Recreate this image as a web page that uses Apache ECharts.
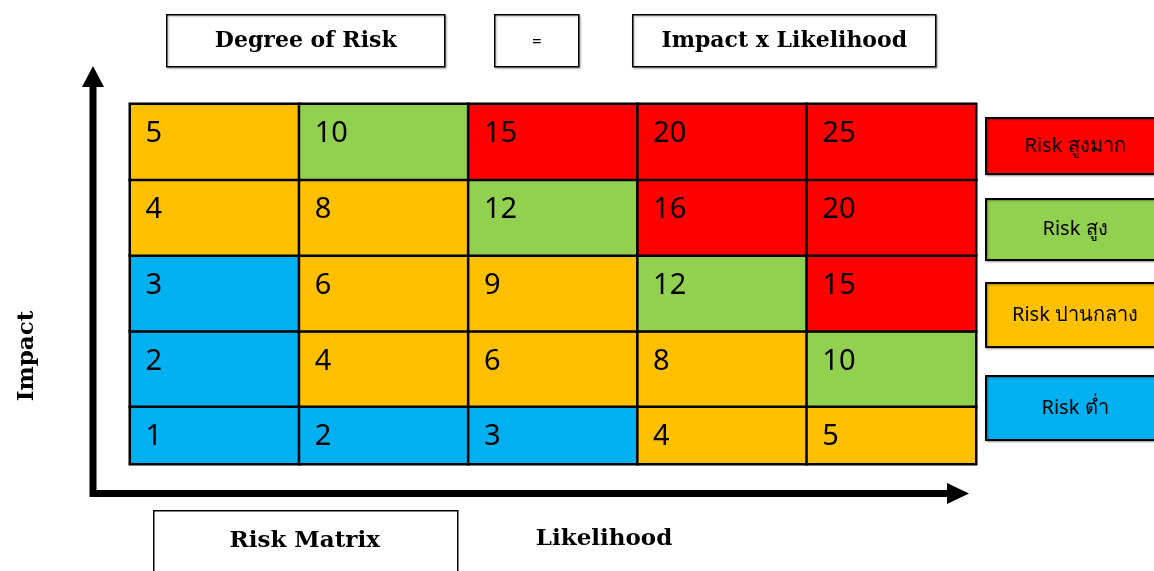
<!DOCTYPE html>
<html>
<head>
<meta charset="utf-8">
<script src="https://cdn.jsdelivr.net/npm/echarts@6/dist/echarts.min.js"></script>
<style>
html,body{margin:0;padding:0;background:#fff;}
#chart{width:1154px;height:571px;}
</style>
</head>
<body>
<div id="chart"></div>
<script>
// Data
const likelihood = ['1', '2', '3', '4', '5'];
const impact = ['1', '2', '3', '4', '5'];
const riskValues = [
  // [likelihoodIndex, impactIndex, degree]
  [0,0,1],[1,0,2],[2,0,3],[3,0,4],[4,0,5],
  [0,1,2],[1,1,4],[2,1,6],[3,1,8],[4,1,10],
  [0,2,3],[1,2,6],[2,2,9],[3,2,12],[4,2,15],
  [0,3,4],[1,3,8],[2,3,12],[3,3,16],[4,3,20],
  [0,4,5],[1,4,10],[2,4,15],[3,4,20],[4,4,25]
];
const legendLabels = ['Risk สูงมาก', 'Risk สูง', 'Risk ปานกลาง', 'Risk ต่ำ'];
const legendRanges = [[13, 25], [10, 12], [4, 9], [1, 3]];
const legendColors = ['#FF0000', '#92D050', '#FFC000', '#00B0F0'];
const headerTexts = ['Degree of Risk', '=', 'Impact x Likelihood'];

const serif = '"DejaVu Serif", "Liberation Serif", serif';
const sans = '"Noto Sans", "DejaVu Sans", sans-serif';

const chart = echarts.init(document.getElementById('chart'), null, {renderer: 'canvas'});

// legend boxes
const legendTops = [117, 198, 282, 375];
const legendHeights = [56, 61, 64, 64];
const legendGraphics = legendLabels.map((t, i) => ({
  type: 'group',
  left: 985, top: legendTops[i],
  children: [
    {type: 'rect', shape: {x: 0, y: 0, width: 178, height: legendHeights[i]},
     style: {fill: legendColors[i], stroke: '#000', lineWidth: 2, shadowColor: 'rgba(0,0,0,0.35)', shadowBlur: 2, shadowOffsetX: 1, shadowOffsetY: 1}},
    {type: 'text', x: 89, y: legendHeights[i] / 2,
     style: {text: t, fill: '#000', font: '20px ' + sans, align: 'center', verticalAlign: 'middle'}}
  ]
}));

function box(x, y, w, h, text, font) {
  return {
    type: 'group', left: x, top: y,
    children: [
      {type: 'rect', shape: {x: 0, y: 0, width: w, height: h},
       style: {fill: '#fff', stroke: '#000', lineWidth: 1.5, shadowColor: 'rgba(0,0,0,0.3)', shadowBlur: 2, shadowOffsetX: 1, shadowOffsetY: 1}},
      {type: 'text', x: w / 2, y: h / 2 + 1,
       style: {text: text, fill: '#000', font: font, align: 'center', verticalAlign: 'middle'}}
    ]
  };
}

const graphics = [
  box(166, 14, 278, 52, headerTexts[0], 'bold 22px ' + serif),
  box(494, 14, 84, 52, headerTexts[1], '17px ' + sans),
  box(632, 14, 303, 52, headerTexts[2], 'bold 22px ' + serif),
  // bottom label box (cut off by bottom edge)
  {type: 'group', left: 153, top: 510, children: [
    {type: 'rect', shape: {x: 0, y: 0, width: 304, height: 80},
     style: {fill: '#fff', stroke: '#000', lineWidth: 1.5}},
    {type: 'text', x: 151, y: 30, style: {text: 'Risk Matrix', fill: '#000', font: 'bold 23px ' + serif, align: 'center', verticalAlign: 'middle'}}
  ]},
  {type: 'text', x: 604, y: 539, style: {text: 'Likelihood', fill: '#000', font: 'bold 23px ' + serif, align: 'center', verticalAlign: 'middle'}},
  {type: 'text', x: 27, y: 356, rotation: Math.PI / 2,
   style: {text: 'Impact', fill: '#000', font: 'bold 23px ' + serif, align: 'center', verticalAlign: 'middle'}},
  // axes arrows
  {type: 'line', shape: {x1: 93, y1: 84, x2: 93, y2: 497}, style: {stroke: '#000', lineWidth: 7}},
  {type: 'polygon', shape: {points: [[93, 66], [82, 87], [104, 87]]}, style: {fill: '#000'}},
  {type: 'line', shape: {x1: 90, y1: 493.5, x2: 950, y2: 493.5}, style: {stroke: '#000', lineWidth: 7}},
  {type: 'polygon', shape: {points: [[969, 493.5], [947, 483], [947, 504]]}, style: {fill: '#000'}}
].concat(legendGraphics);

const hiddenAxis = {axisLine: {show: false}, axisTick: {show: false}, axisLabel: {show: false}, splitLine: {show: false}};
const cellStyle = {
  itemStyle: {borderColor: '#000', borderWidth: 2.5},
  label: {
    show: true, position: [17, 17],
    color: '#000', fontSize: 29, fontFamily: sans,
    formatter: p => String(p.value[2])
  },
  emphasis: {disabled: true}
};

const option = {
  backgroundColor: '#fff',
  animation: false,
  // upper rows (impact 2-5) and the shorter bottom row (impact 1)
  grid: [
    {left: 130, top: 104, width: 846, height: 303},
    {left: 130, top: 407, width: 846, height: 57}
  ],
  xAxis: [
    Object.assign({type: 'category', data: likelihood, gridIndex: 0}, hiddenAxis),
    Object.assign({type: 'category', data: likelihood, gridIndex: 1}, hiddenAxis)
  ],
  yAxis: [
    Object.assign({type: 'category', data: impact.slice(1), gridIndex: 0}, hiddenAxis),
    Object.assign({type: 'category', data: impact.slice(0, 1), gridIndex: 1}, hiddenAxis)
  ],
  visualMap: {
    show: false, type: 'piecewise', dimension: 2, seriesIndex: [0, 1],
    pieces: legendRanges.map((r, i) => ({min: r[0], max: r[1], color: legendColors[i]}))
  },
  series: [
    Object.assign({
      type: 'heatmap', xAxisIndex: 0, yAxisIndex: 0,
      data: riskValues.filter(d => d[1] > 0).map(d => [d[0], d[1] - 1, d[2]])
    }, cellStyle),
    Object.assign({
      type: 'heatmap', xAxisIndex: 1, yAxisIndex: 1,
      data: riskValues.filter(d => d[1] === 0)
    }, cellStyle)
  ],
  graphic: graphics
};
chart.setOption(option);
</script>
</body>
</html>
